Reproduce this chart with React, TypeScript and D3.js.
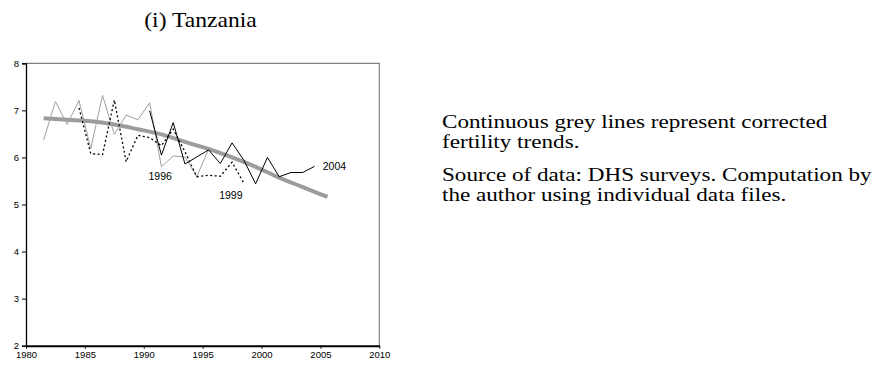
import * as d3 from "d3";
import { useEffect, useRef } from "react";

const width = 878;
const height = 367;

// survey estimates (births per woman), by mid-year
const years1996 = [1981.5, 1982.5, 1983.5, 1984.5, 1985.5, 1986.5, 1987.5, 1988.5, 1989.5, 1990.5, 1991.5, 1992.5, 1993.5, 1994.5, 1995.5];
const tfr1996 = [6.37, 7.19, 6.7, 7.21, 6.19, 7.32, 6.49, 6.9, 6.8, 7.16, 5.8, 6.03, 6.01, 5.59, 6.17];

const years1999 = [1984.5, 1985.5, 1986.5, 1987.5, 1988.5, 1989.5, 1990.5, 1991.5, 1992.5, 1993.5, 1994.5, 1995.5, 1996.5, 1997.5, 1998.5];
const tfr1999 = [7.05, 6.08, 6.06, 7.22, 5.91, 6.47, 6.42, 6.25, 6.6, 6.12, 5.59, 5.62, 5.6, 5.9, 5.45];

const years2004 = [1990.5, 1991.5, 1992.5, 1993.5, 1994.5, 1995.5, 1996.5, 1997.5, 1998.5, 1999.5, 2000.5, 2001.5, 2002.5, 2003.5, 2004.5];
const tfr2004 = [6.99, 6.05, 6.74, 5.86, 6.01, 6.16, 5.87, 6.31, 5.94, 5.44, 6.0, 5.59, 5.68, 5.68, 5.81];

const trendYears = [1981.5, 1983.5, 1985.5, 1987.5, 1989.5, 1991.5, 1993.5, 1995.5, 1997.5, 1999.5, 2001.5, 2003.5, 2005.6];
const trendTfr = [6.83, 6.8, 6.77, 6.7, 6.6, 6.49, 6.33, 6.18, 6.0, 5.8, 5.57, 5.37, 5.16];

const xTicks = [1980, 1985, 1990, 1995, 2000, 2005, 2010];
const yTicks = [2, 3, 4, 5, 6, 7, 8];

const notes = [
  ["Continuous grey lines represent corrected", "fertility trends."],
  ["Source of data: DHS surveys. Computation by", "the author using individual data files."],
];

const box = { left: 26, right: 379.3, top: 63.3, bottom: 345.7 };

function App() {
  const svgRef = useRef<SVGSVGElement | null>(null);

  useEffect(() => {
    const svg = d3.select(svgRef.current);
    svg.selectAll("*").remove();

    const x = d3.scaleLinear().domain([1980, 2010]).range([box.left, box.right]);
    const y = d3.scaleLinear().domain([2, 8]).range([box.bottom, box.top]);

    // title
    svg
      .append("text")
      .attr("transform", `translate(200.5, 27) scale(1.18, 1)`)
      .attr("text-anchor", "middle")
      .style("font-family", "'Liberation Serif', 'Times New Roman', serif")
      .style("font-size", "20px")
      .style("fill", "#000")
      .text("(i) Tanzania");

    // plot frame: grey top and right
    svg
      .append("path")
      .attr("d", `M${box.left},${box.top}H${box.right}V${box.bottom}`)
      .attr("fill", "none")
      .attr("stroke", "#808080")
      .attr("stroke-width", 1.2);

    const tickFont = "'Liberation Sans', Arial, sans-serif";

    const yAxis = svg
      .append("g")
      .attr("transform", `translate(${box.left}, 0)`)
      .call(d3.axisLeft(y).tickValues(yTicks).tickSize(4).tickPadding(3).tickFormat(d3.format("d")));
    yAxis.select(".domain").attr("stroke", "#000").attr("stroke-width", 1.3);
    yAxis.selectAll(".tick line").attr("stroke", "#000");
    yAxis.selectAll(".tick text").style("font-family", tickFont).style("font-size", "9.5px").style("fill", "#000");

    const xAxis = svg
      .append("g")
      .attr("transform", `translate(0, ${box.bottom})`)
      .call(d3.axisBottom(x).tickValues(xTicks).tickSize(3).tickSizeOuter(0).tickPadding(3).tickFormat(d3.format("d")));
    xAxis.select(".domain").attr("stroke", "#000").attr("stroke-width", 2);
    xAxis.selectAll(".tick line").attr("stroke", "#000");
    xAxis.selectAll(".tick text").style("font-family", tickFont).style("font-size", "9.5px").style("fill", "#000");

    const line = d3
      .line<[number, number]>()
      .x((d) => x(d[0]))
      .y((d) => y(d[1]));

    const zip = (a: number[], b: number[]) => a.map((v, i) => [v, b[i]] as [number, number]);

    // corrected trend (thick grey)
    svg
      .append("path")
      .attr("d", line.curve(d3.curveMonotoneX)(zip(trendYears, trendTfr)))
      .attr("fill", "none")
      .attr("stroke", "#9c9c9c")
      .attr("stroke-width", 4)
      .attr("stroke-linecap", "butt");

    line.curve(d3.curveLinear);

    svg
      .append("path")
      .attr("d", line(zip(years1996, tfr1996)))
      .attr("fill", "none")
      .attr("stroke", "#a0a0a0")
      .attr("stroke-width", 1);

    svg
      .append("path")
      .attr("d", line(zip(years1999, tfr1999)))
      .attr("fill", "none")
      .attr("stroke", "#000")
      .attr("stroke-width", 1.3)
      .attr("stroke-dasharray", "2,2.5");

    svg
      .append("path")
      .attr("d", line(zip(years2004, tfr2004)))
      .attr("fill", "none")
      .attr("stroke", "#000")
      .attr("stroke-width", 1);

    const labels = [
      { text: "1996", year: 1990.4, value: 5.52 },
      { text: "1999", year: 1996.4, value: 5.12 },
      { text: "2004", year: 2005.2, value: 5.73 },
    ];
    svg
      .selectAll(".survey-label")
      .data(labels)
      .join("text")
      .attr("class", "survey-label")
      .attr("x", (d) => x(d.year))
      .attr("y", (d) => y(d.value))
      .style("font-family", tickFont)
      .style("font-size", "10.5px")
      .style("fill", "#000")
      .text((d) => d.text);

    // notes to the right
    const noteGroup = svg
      .append("g")
      .style("font-family", "'Liberation Serif', 'Times New Roman', serif")
      .style("font-size", "18.5px")
      .style("fill", "#000");
    const noteBaselines = [[128, 148], [181, 201]];
    notes.forEach((para, p) => {
      para.forEach((ln, i) => {
        noteGroup
          .append("text")
          .attr("transform", `translate(442, ${noteBaselines[p][i]}) scale(1.25, 1)`)
          .text(ln);
      });
    });
  }, []);

  return (
    <svg
      ref={svgRef}
      width={width}
      height={height}
      style={{ position: "absolute", left: 0, top: 0, background: "#fff" }}
    ></svg>
  );
}

export default App;
